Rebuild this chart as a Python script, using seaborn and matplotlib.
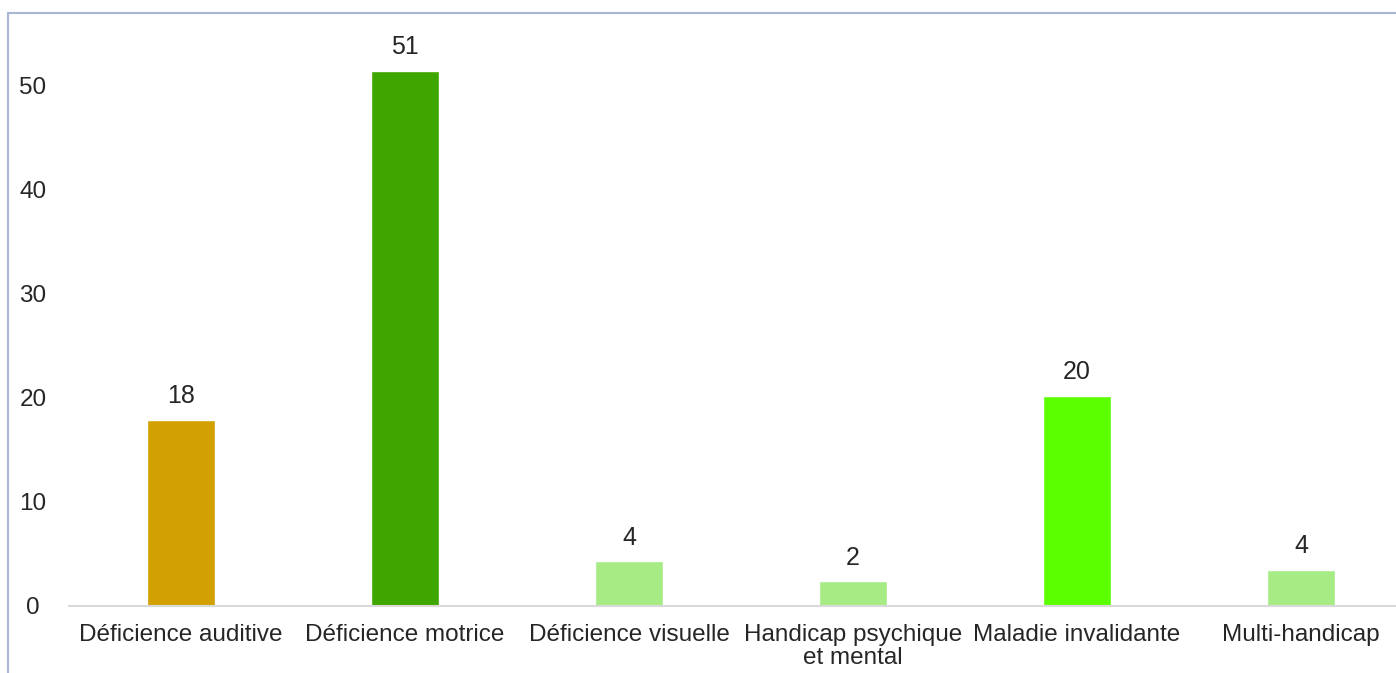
import pandas as pd
import matplotlib.pyplot as plt
import seaborn as sns
from matplotlib.patches import Rectangle

# values (bar heights) and the rounded labels shown above bars
categories = ["Déficience auditive", "Déficience motrice", "Déficience visuelle",
              "Handicap psychique\net mental", "Maladie invalidante", "Multi-handicap"]
values = [17.9, 51.4, 4.3, 2.4, 20.2, 3.5]
labels = ["18", "51", "4", "2", "20", "4"]
colors = ["#D2A000", "#3FA600", "#A6EB84", "#A6EB84", "#5CFF00", "#A6EB84"]

df = pd.DataFrame({"cat": categories, "val": values})

sns.set_theme(style="white")
plt.rcParams["font.family"] = ["Liberation Sans", "DejaVu Sans"]

fig = plt.figure(figsize=(13.96, 6.73), dpi=100)
ax = fig.add_axes([69 / 1396, 67 / 673, 1344 / 1396, 573 / 673])

sns.barplot(data=df, x="cat", y="val", hue="cat", palette=colors,
            width=0.3, legend=False, ax=ax, saturation=1)

for i, (v, lab) in enumerate(zip(values, labels)):
    ax.annotate(lab, (i, v), xytext=(0, 8), textcoords="offset points",
                ha="center", va="bottom", fontsize=18, color="#262626")

ax.set_ylim(0, 55)
ax.set_xlim(-0.5, 5.5)
ax.set_yticks([0, 10, 20, 30, 40, 50])
ax.set_xlabel("")
ax.set_ylabel("")
for s in ["top", "right", "left"]:
    ax.spines[s].set_visible(False)
ax.spines["bottom"].set_color("#D9D9D9")
ax.spines["bottom"].set_linewidth(1.5)
ax.tick_params(axis="x", length=0, pad=13, labelsize=17.5, labelcolor="#262626")
ax.tick_params(axis="y", length=0, pad=26, labelsize=17.5, labelcolor="#262626")
for t in ax.get_yticklabels():
    t.set_ha("center")
for t in ax.get_xticklabels():
    t.set_linespacing(1.05)

# outer chart frame, cut off on the right and bottom like in the source
fig.patches.append(Rectangle((8 / 1396, -0.1), 1.2, (673 - 13) / 673 + 0.1,
                             transform=fig.transFigure, fill=False,
                             edgecolor="#A6B8D4", linewidth=1.5, clip_on=False))

fig.savefig("out.png", dpi=100)
